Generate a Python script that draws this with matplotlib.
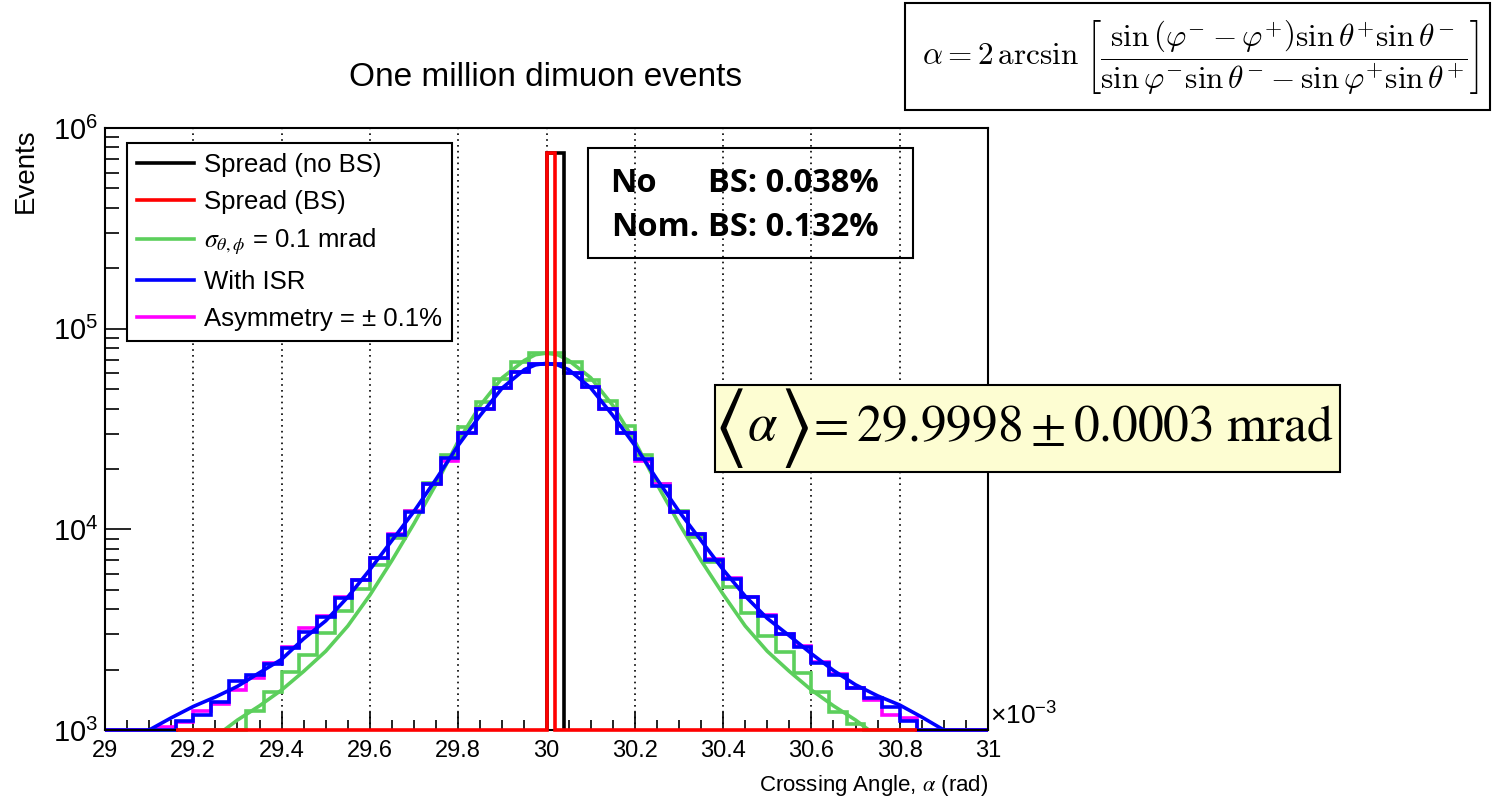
"""Crossing angle distributions for one million dimuon events."""

import numpy as np
import matplotlib
matplotlib.use("Agg")
from matplotlib import pyplot as plt
from matplotlib.lines import Line2D
from matplotlib.patches import Rectangle
from matplotlib.ticker import FixedLocator, FixedFormatter, MultipleLocator, LogLocator, NullFormatter

plt.rcParams["font.family"] = ["Liberation Sans", "DejaVu Sans"]
plt.rcParams["mathtext.fontset"] = "custom"
plt.rcParams["mathtext.rm"] = "Liberation Sans"
plt.rcParams["mathtext.it"] = "Liberation Sans:italic"
plt.rcParams["mathtext.bf"] = "Liberation Sans:bold"

# 50 bins of 0.04 mrad between 29 and 31 mrad
bin_lo, bin_hi, n_bins = 29.0, 31.0, 50

green_counts = [0, 0, 0, 0, 0, 0, 0, 0, 1248, 1552,
                1952, 2364, 3032, 3930, 5024, 6637, 9020, 12300, 17070, 23450,
                32200, 43250, 55860, 68400, 75860, 75860, 68400, 55460, 43570, 32710,
                23450, 16810, 12380, 9190, 6850, 5140, 3841, 2940, 2450, 1925,
                1552, 1230, 1075, 0, 0, 0, 0, 0, 0, 0]
blue_counts = [0, 0, 0, 0, 1113, 1188, 1384, 1760, 1880, 2132,
               2553, 3090, 3669, 4530, 5590, 7170, 9370, 12240, 16750, 22580,
               30300, 39600, 50400, 61000, 66600, 66600, 60300, 51000, 39740, 30080,
               22400, 16430, 12240, 9445, 7030, 5633, 4582, 3710, 3008, 2600,
               2165, 1880, 1613, 1439, 1306, 1113, 0, 0, 0, 0]
magenta_counts = [0, 0, 0, 1031, 1100, 1248, 1350, 1582, 1822, 2150,
                  2600, 3212, 3712, 4584, 5590, 7200, 9450, 12300, 16750, 21980,
                  30300, 39600, 50400, 61000, 66600, 66600, 60300, 51000, 39740, 30080,
                  22000, 16810, 12240, 9445, 7100, 5700, 4600, 3750, 3008, 2620,
                  2180, 1900, 1613, 1411, 1188, 1147, 0, 0, 0, 0]

# beam spread only: everything sits in one narrow bin
black_edges = [30.00, 30.04]
black_counts = [7.5e5]
red_edges = [29.16, 30.00, 30.02, 30.84]
red_counts = [0, 7.5e5, 0]

# fitted curves
green_fit_x = [29.27, 29.30, 29.35, 29.40, 29.45, 29.50, 29.55, 29.60, 29.65, 29.70,
               29.75, 29.80, 29.85, 29.90, 29.95, 29.975, 30.00, 30.025, 30.05, 30.10,
               30.15, 30.20, 30.25, 30.30, 30.35, 30.40, 30.45, 30.50, 30.55, 30.60,
               30.65, 30.70, 30.73]
green_fit_y = [1000, 1121, 1320, 1582, 1960, 2470, 3300, 4700, 7000, 10700,
               16800, 27500, 41500, 57000, 69500, 74200, 75500, 74200, 69500, 57000,
               41500, 27500, 16800, 10700, 7000, 4750, 3300, 2470, 1960, 1582,
               1320, 1121, 1000]
blue_fit_x = [29.10, 29.15, 29.20, 29.25, 29.30, 29.35, 29.40, 29.45, 29.50, 29.55,
              29.60, 29.65, 29.70, 29.75, 29.80, 29.85, 29.90, 29.95, 29.975, 30.00,
              30.025, 30.05, 30.10, 30.15, 30.20, 30.25, 30.30, 30.35, 30.40, 30.45,
              30.50, 30.55, 30.60, 30.65, 30.70, 30.75, 30.80, 30.85, 30.90]
blue_fit_y = [1000, 1150, 1310, 1460, 1650, 1930, 2250, 2850, 3500, 4600,
              6300, 8800, 12300, 17800, 26200, 37000, 50700, 62500, 66000, 67200,
              66000, 62500, 50700, 37000, 26200, 17800, 12300, 8800, 6300, 4650,
              3600, 2950, 2400, 1980, 1680, 1480, 1332, 1160, 1000]

x_ticks = [29.0, 29.2, 29.4, 29.6, 29.8, 30.0, 30.2, 30.4, 30.6, 30.8, 31.0]
x_tick_labels = ["29", "29.2", "29.4", "29.6", "29.8", "30", "30.2", "30.4", "30.6", "30.8", "31"]

legend_labels = ["Spread (no BS)", "Spread (BS)", r"$\sigma_{\theta,\phi}$ = 0.1 mrad",
                 "With ISR", "Asymmetry = \u00b1 0.1%"]

GREEN = "#5ccf5c"
floor = 1e3
lw = 2.6

fig = plt.figure(figsize=(14.97, 7.97), dpi=100)
ax = fig.add_axes([105 / 1497, 1 - 730 / 797, 883 / 1497, 602 / 797])

edges = np.linspace(bin_lo, bin_hi, n_bins + 1)
ax.stairs(np.clip(green_counts, floor, None), edges, baseline=None,
          color=GREEN, lw=lw, zorder=2.0, clip_on=False)
ax.plot(green_fit_x, green_fit_y, color=GREEN, lw=lw, zorder=2.1)
ax.stairs(np.clip(magenta_counts, floor, None), edges, baseline=None,
          color="#ff00ff", lw=lw, zorder=2.2, clip_on=False)
ax.stairs(np.clip(blue_counts, floor, None), edges, baseline=None,
          color="#0000ff", lw=lw, zorder=2.3, clip_on=False)
ax.plot(blue_fit_x, blue_fit_y, color="#0000ff", lw=lw, zorder=2.4)
ax.stairs(black_counts, black_edges, baseline=floor, color="k", lw=lw,
          zorder=2.5, clip_on=False)
ax.stairs(np.clip(red_counts, floor, None), red_edges, baseline=None,
          color="#ff0000", lw=lw, zorder=2.6, clip_on=False)

ax.set_yscale("log")
ax.set_xlim(bin_lo, bin_hi)
ax.set_ylim(1e3, 1e6)

ax.xaxis.set_major_locator(FixedLocator(x_ticks))
ax.xaxis.set_major_formatter(FixedFormatter(x_tick_labels))
ax.xaxis.set_minor_locator(MultipleLocator(0.05))
ax.yaxis.set_major_locator(LogLocator(base=10))
ax.yaxis.set_major_formatter(plt.FuncFormatter(lambda v, p: r"$10^{%d}$" % round(np.log10(v))))
ax.yaxis.set_minor_locator(LogLocator(base=10, subs=np.arange(2, 10)))
ax.yaxis.set_minor_formatter(NullFormatter())

ax.tick_params(axis="x", which="major", direction="in", length=13, width=1.2,
               labelsize=17, pad=7, top=False)
ax.tick_params(axis="x", which="minor", direction="in", length=7, width=1.2, top=False)
ax.tick_params(axis="y", which="major", direction="in", length=19, width=1.2,
               labelsize=21, pad=5, right=False)
ax.tick_params(axis="y", which="minor", direction="in", length=10, width=1.2, right=False)
for s in ax.spines.values():
    s.set_linewidth(1.5)

ax.grid(axis="x", which="major", color="k", ls=(0, (1, 2.5)), lw=1.2, zorder=1)

ax.set_xlabel(r"Crossing Angle, $\alpha$ (rad)", fontsize=16, loc="right",
              math_fontfamily="stix", labelpad=8)
ax.set_ylabel("Events", fontsize=20, loc="top", labelpad=10)

fig.text(990 / 1497, 1 - 716 / 797, r"$\times10^{-3}$", fontsize=19, va="center", ha="left")
fig.text(546 / 1497, 1 - 77 / 797, "One million dimuon events", fontsize=24,
         ha="center", va="center")

handles = [Line2D([], [], color=c, lw=lw) for c in ["k", "#ff0000", GREEN, "#0000ff", "#ff00ff"]]
leg = ax.legend(handles, legend_labels, loc="upper left", bbox_to_anchor=(22 / 883, 1 - 15 / 602),
                borderaxespad=0, fontsize=18.5, frameon=True, fancybox=False, edgecolor="k",
                framealpha=1, handlelength=2.2, handletextpad=0.4, labelspacing=0.5,
                borderpad=0.4)
leg.get_frame().set_linewidth(1.5)
leg.set_zorder(5)
for t in leg.get_texts():
    t.set_math_fontfamily("stix")

# stats box (transparent, the grid shows through)
fig.add_artist(Rectangle((588 / 1497, 1 - 258 / 797), 325 / 1497, 110 / 797,
                         transform=fig.transFigure, fill=False, ec="k", lw=1.5, zorder=6))
stat_font = dict(fontsize=23.5, fontweight="bold", family="Open Sans", va="center", zorder=7)
fig.text(610 / 1497, 1 - 183 / 797, "No", ha="left", **stat_font)
fig.text(708 / 1497, 1 - 183 / 797, "BS: 0.038%", ha="left", **stat_font)
fig.text(611 / 1497, 1 - 227 / 797, "Nom.", ha="left", **stat_font)
fig.text(708 / 1497, 1 - 227 / 797, "BS: 0.132%", ha="left", **stat_font)

# mean crossing angle
fig.add_artist(Rectangle((715 / 1497, 1 - 472 / 797), 625 / 1497, 87 / 797,
                         transform=fig.transFigure, fc="#fdfdd2", ec="k", lw=1.5, zorder=6))
fig.text(728 / 1497, 1 - 428 / 797, r"$\langle$", fontsize=62, ha="center", va="center",
         math_fontfamily="stix", zorder=7)
fig.text(762 / 1497, 1 - 426 / 797, r"$\alpha$", fontsize=38, ha="center", va="center",
         math_fontfamily="stix", zorder=7)
fig.text(794 / 1497, 1 - 428 / 797, r"$\rangle$", fontsize=62, ha="center", va="center",
         math_fontfamily="stix", zorder=7)
fig.text(806 / 1497, 1 - 428 / 797, r"$= 29.9998 \pm 0.0003\ \mathrm{mrad}$",
         fontsize=37, ha="left", va="center", math_fontfamily="stix", zorder=7)

# crossing angle formula
fig.add_artist(Rectangle((905 / 1497, 1 - 110 / 797), 585 / 1497, 107 / 797,
                         transform=fig.transFigure, fill=False, ec="k", lw=1.5, zorder=6))
fig.text(1200 / 1497, 1 - 57 / 797,
         r"$\alpha = 2\,\arcsin\,\left[\dfrac{\sin\left(\varphi^{-}-\varphi^{+}\right)\sin\theta^{+}\sin\theta^{-}}"
         r"{\sin\varphi^{-}\sin\theta^{-}-\sin\varphi^{+}\sin\theta^{+}}\right]$",
         fontsize=22.5, ha="center", va="center", math_fontfamily="cm", zorder=7)

fig.savefig("out.png", dpi=100)
